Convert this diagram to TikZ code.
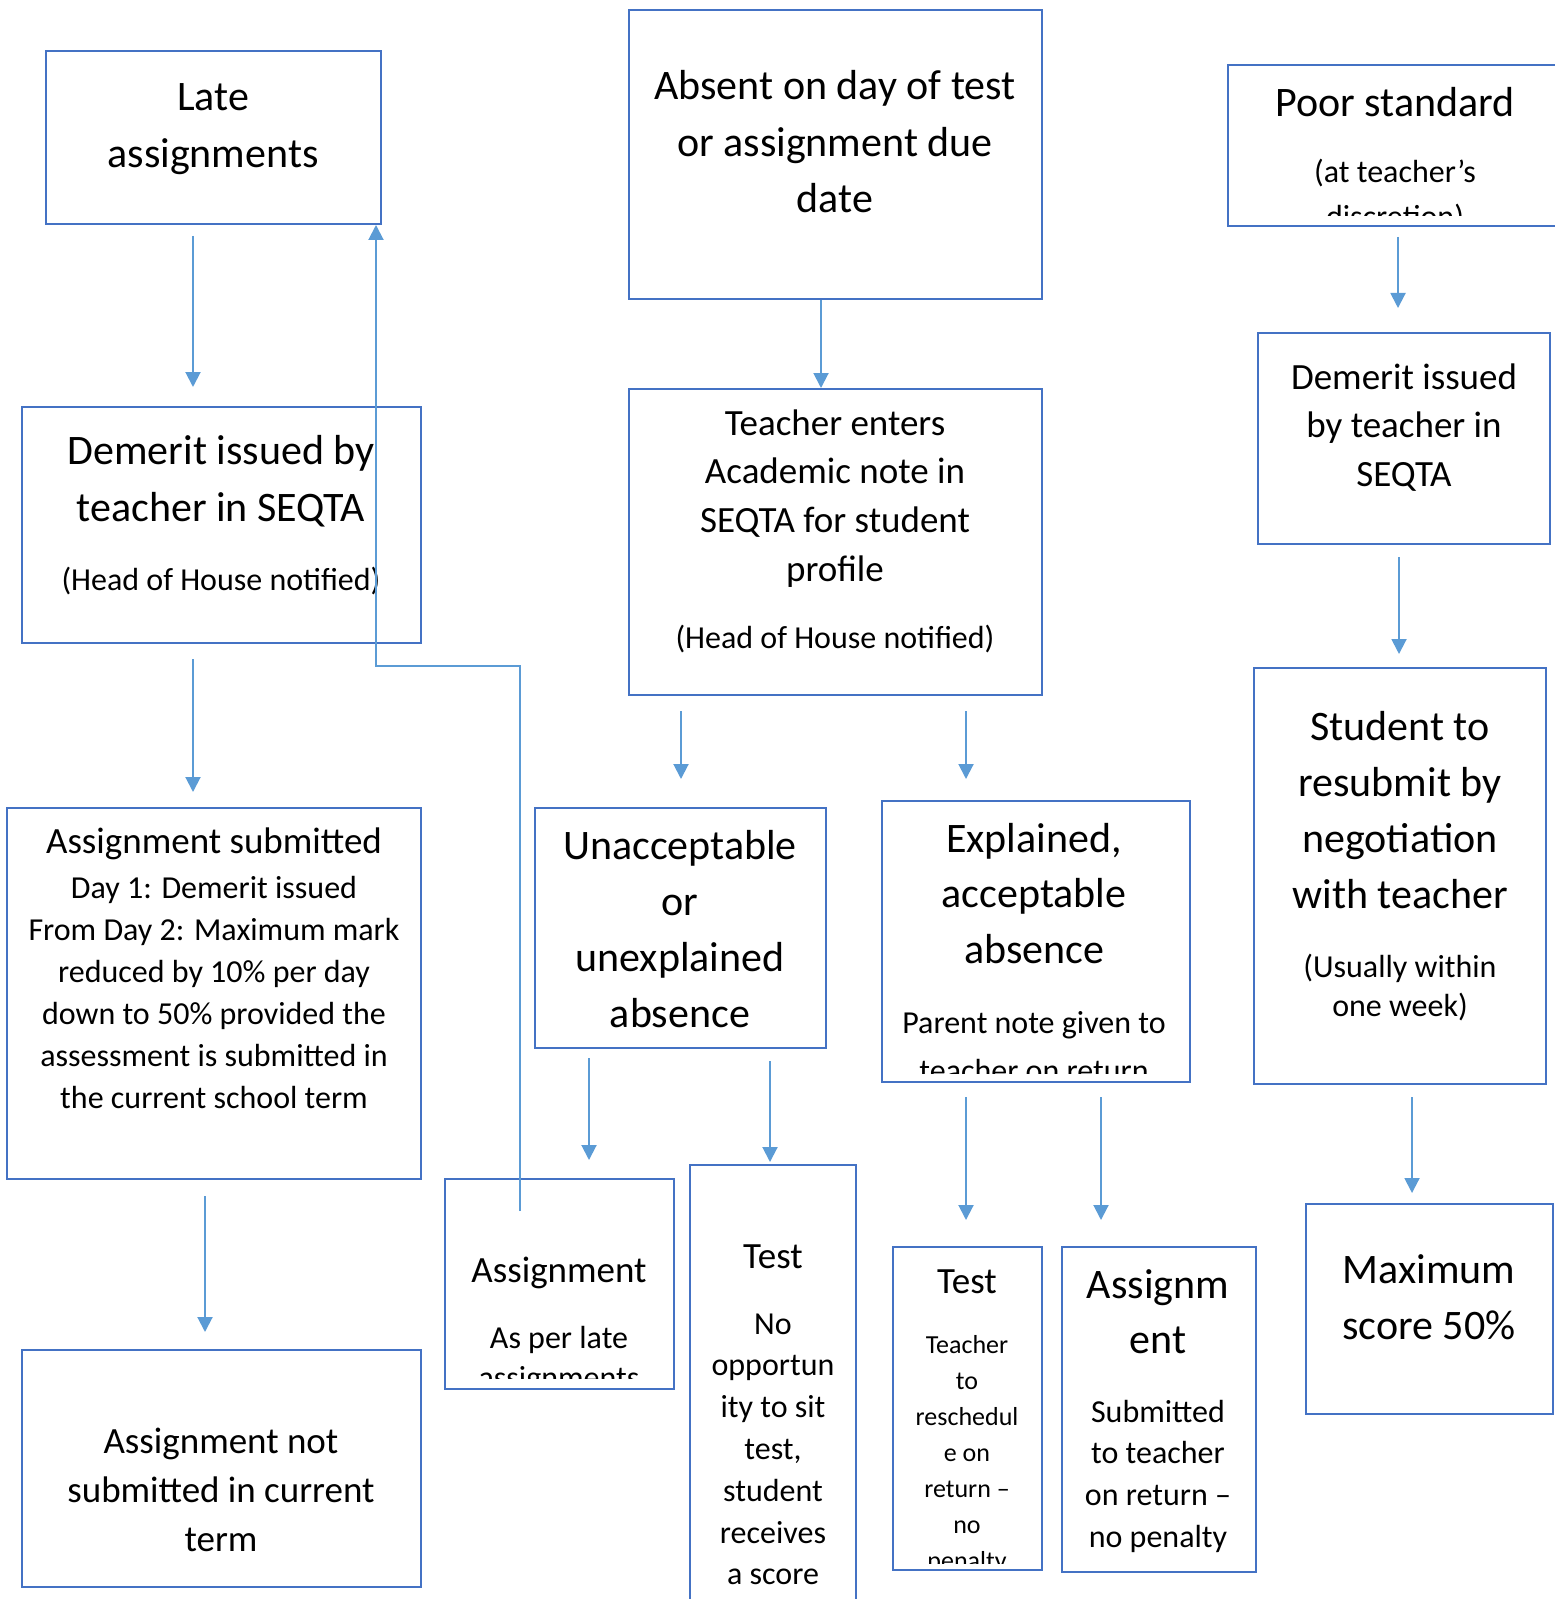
\documentclass[tikz,border=0pt]{standalone}
\usepackage{fontspec}
\setmainfont{Carlito}
\usetikzlibrary{arrows.meta,fit,calc}
\definecolor{boxblue}{HTML}{4472C4}
\definecolor{arrblue}{HTML}{5B9BD5}
\newcommand\txtlines[6]{%
  \foreach \tx [count=\nn] in {#6} {\node[tl, #5, anchor=base] (#1-\nn) at (#2, {#3+(\nn-1)*#4}) {\tx};}}
\tikzset{
  box/.style={draw=boxblue, line width=1pt, inner sep=0pt},
  tl/.style={inner sep=0pt, text=black},
  arr/.style={draw=arrblue, line width=1pt, -{Triangle[width=7.5pt,length=7.5pt]}},
  f21/.style={font=\fontsize{21pt}{25pt}\selectfont},
  f18/.style={font=\fontsize{18.5pt}{22pt}\selectfont},
  f16/.style={font=\fontsize{16pt}{19pt}\selectfont},
  f13/.style={font=\fontsize{13pt}{16pt}\selectfont},
}
\begin{document}
\begin{tikzpicture}[x=0.5pt,y=-0.5pt]
\useasboundingbox (0,0) rectangle (1554,1599);
% boxes
\node[box, fit={(46,51) (381,224)}] (late) {};
\node[box, fit={(629,10) (1042,299)}] (absent) {};
\node[box, fit={(1228,65) (1562,226)}] (poor) {};
\node[box, fit={(22,407) (421,643)}] (dem1) {};
\node[box, fit={(629,389) (1042,695)}] (teach) {};
\node[box, fit={(1258,333) (1550,544)}] (dem2) {};
\node[box, fit={(7,808) (421,1179)}] (sub) {};
\node[box, fit={(535,808) (826,1048)}] (unacc) {};
\node[box, fit={(882,801) (1190,1082)}] (expl) {};
\node[box, fit={(1254,668) (1546,1084)}] (stud) {};
\node[box, fit={(22,1350) (421,1587)}] (nsub) {};
\node[box, fit={(445,1179) (674,1389)}] (asg) {};
\node[box, fit={(690,1165) (856,1620)}] (tno) {};
\node[box, fit={(893,1247) (1042,1570)}] (tre) {};
\node[box, fit={(1062,1247) (1256,1572)}] (ase) {};
\node[box, fit={(1306,1204) (1553,1414)}] (maxs) {};
% texts
\txtlines{late-t}{213}{111}{57}{f21}{Late,assignments}
\txtlines{abs-t}{835}{100}{56.5}{f21}{Absent on day of test,or assignment due,date}
\begin{scope}
\clip ([yshift=5.5pt]poor.south west) rectangle (poor.north east);
\txtlines{poor-a}{1395}{117}{0}{f21}{Poor standard}
\txtlines{poor-b}{1395}{183}{45}{f16}{{(at teacher’s},{discretion)}}
\end{scope}
\txtlines{dem1-a}{221}{464}{57}{f21}{Demerit issued by,teacher in SEQTA}
\txtlines{dem1-b}{221}{590}{0}{f16}{{(Head of House notified)}}
\txtlines{tea-a}{835}{435}{48.7}{f18}{Teacher enters,Academic note in,SEQTA for student,profile}
\txtlines{tea-b}{835}{648}{0}{f16}{{(Head of House notified)}}
\txtlines{dem2-t}{1404}{389}{48.5}{f18}{Demerit issued,by teacher in,SEQTA}
\txtlines{sub-a}{214}{853}{0}{f18}{Assignment submitted}
\txtlines{sub-b}{214}{898}{42}{f16}{Day 1: Demerit issued,From Day 2: Maximum mark,reduced by 10\% per day,down to 50\% provided the,assessment is submitted in,the current school term}
\txtlines{nsub-t}{221}{1453}{49}{f18}{Assignment not,submitted in current,term}
\txtlines{una-t}{680}{859}{56.3}{f21}{Unacceptable,or,unexplained,absence}
\begin{scope}
\clip ([yshift=5pt]expl.south west) rectangle (expl.north east);
\txtlines{exp-a}{1034}{852}{55.5}{f21}{{Explained,},acceptable,absence}
\txtlines{exp-b}{1034}{1033}{48}{f16}{Parent note given to,teacher on return}
\end{scope}
\txtlines{stu-a}{1400}{740}{56}{f21}{Student to,resubmit by,negotiation,with teacher}
\txtlines{stu-b}{1400}{977}{39}{f16}{{(Usually within},{one week)}}
\begin{scope}
\clip ([yshift=6pt]asg.south west) rectangle (asg.north east);
\txtlines{asl-a}{559}{1282}{0}{f18}{Assignment}
\txtlines{asl-b}{559}{1348}{40}{f16}{As per late,assignments}
\end{scope}
\txtlines{tno-a}{773}{1268}{0}{f18}{Test}
\txtlines{tno-b}{773}{1334}{41.8}{f16}{No,opportun,ity to sit,{test,},student,receives,a score}
\begin{scope}
\clip ([yshift=4pt]tre.south west) rectangle (tre.north east);
\txtlines{tre-a}{967}{1293}{0}{f18}{Test}
\txtlines{tre-b}{967}{1353}{36}{f13}{Teacher,to,reschedul,e on,return –,no,penalty}
\end{scope}
\txtlines{ase-a}{1158}{1298}{55}{f21}{Assignm,ent}
\txtlines{ase-b}{1158}{1422}{41.7}{f16}{Submitted,to teacher,on return –,no penalty}
\txtlines{max-t}{1429}{1283}{56}{f21}{Maximum,score 50\%}
% arrow x positions
\coordinate (xa) at (193,0);
\coordinate (xb) at (205,0);
\coordinate (xc) at (821,0);
\coordinate (xd) at (681,0);
\coordinate (xe) at (966,0);
\coordinate (xf) at (589,0);
\coordinate (xg) at (770,0);
\coordinate (xh) at (1101,0);
\coordinate (xi) at (1398,0);
\coordinate (xj) at (1399,0);
\coordinate (xk) at (1412,0);
\coordinate (xu) at (520,0);
\coordinate (bend) at (376,666);
% arrows
\draw[arr, shorten <=5.5pt, shorten >=9.5pt] (late.south -| xa) -- (dem1.north -| xa);
\draw[arr, shorten <=7.5pt, shorten >=7.5pt] (dem1.south -| xa) -- (sub.north -| xa);
\draw[arr, shorten <=8pt, shorten >=8.5pt] (sub.south -| xb) -- (nsub.north -| xb);
\draw[arr] (absent.south -| xc) -- (teach.north -| xc);
\draw[arr, shorten <=7.5pt, shorten >=14pt] (teach.south -| xd) -- (unacc.north -| xd);
\draw[arr, shorten <=7.5pt, shorten >=10.5pt] (teach.south -| xe) -- (expl.north -| xe);
\draw[arr, shorten <=4.5pt, shorten >=9pt] (unacc.south -| xf) -- (asg.north -| xf);
\draw[arr, shorten <=6pt, shorten >=1pt] (unacc.south -| xg) -- (tno.north -| xg);
\draw[arr, shorten <=7pt, shorten >=13pt] (expl.south -| xe) -- (tre.north -| xe);
\draw[arr, shorten <=7pt, shorten >=13pt] (expl.south -| xh) -- (ase.north -| xh);
\draw[arr, shorten <=5pt, shorten >=12pt] (poor.south -| xi) -- (dem2.north -| xi);
\draw[arr, shorten <=6pt, shorten >=6.5pt] (dem2.south -| xj) -- (stud.north -| xj);
\draw[arr, shorten <=6pt, shorten >=5pt] (stud.south -| xk) -- (maxs.north -| xk);
\draw[arr] ($(asg.north -| xu)+(0,33)$) |- (bend) -- (late.south -| bend);
\end{tikzpicture}
\end{document}
